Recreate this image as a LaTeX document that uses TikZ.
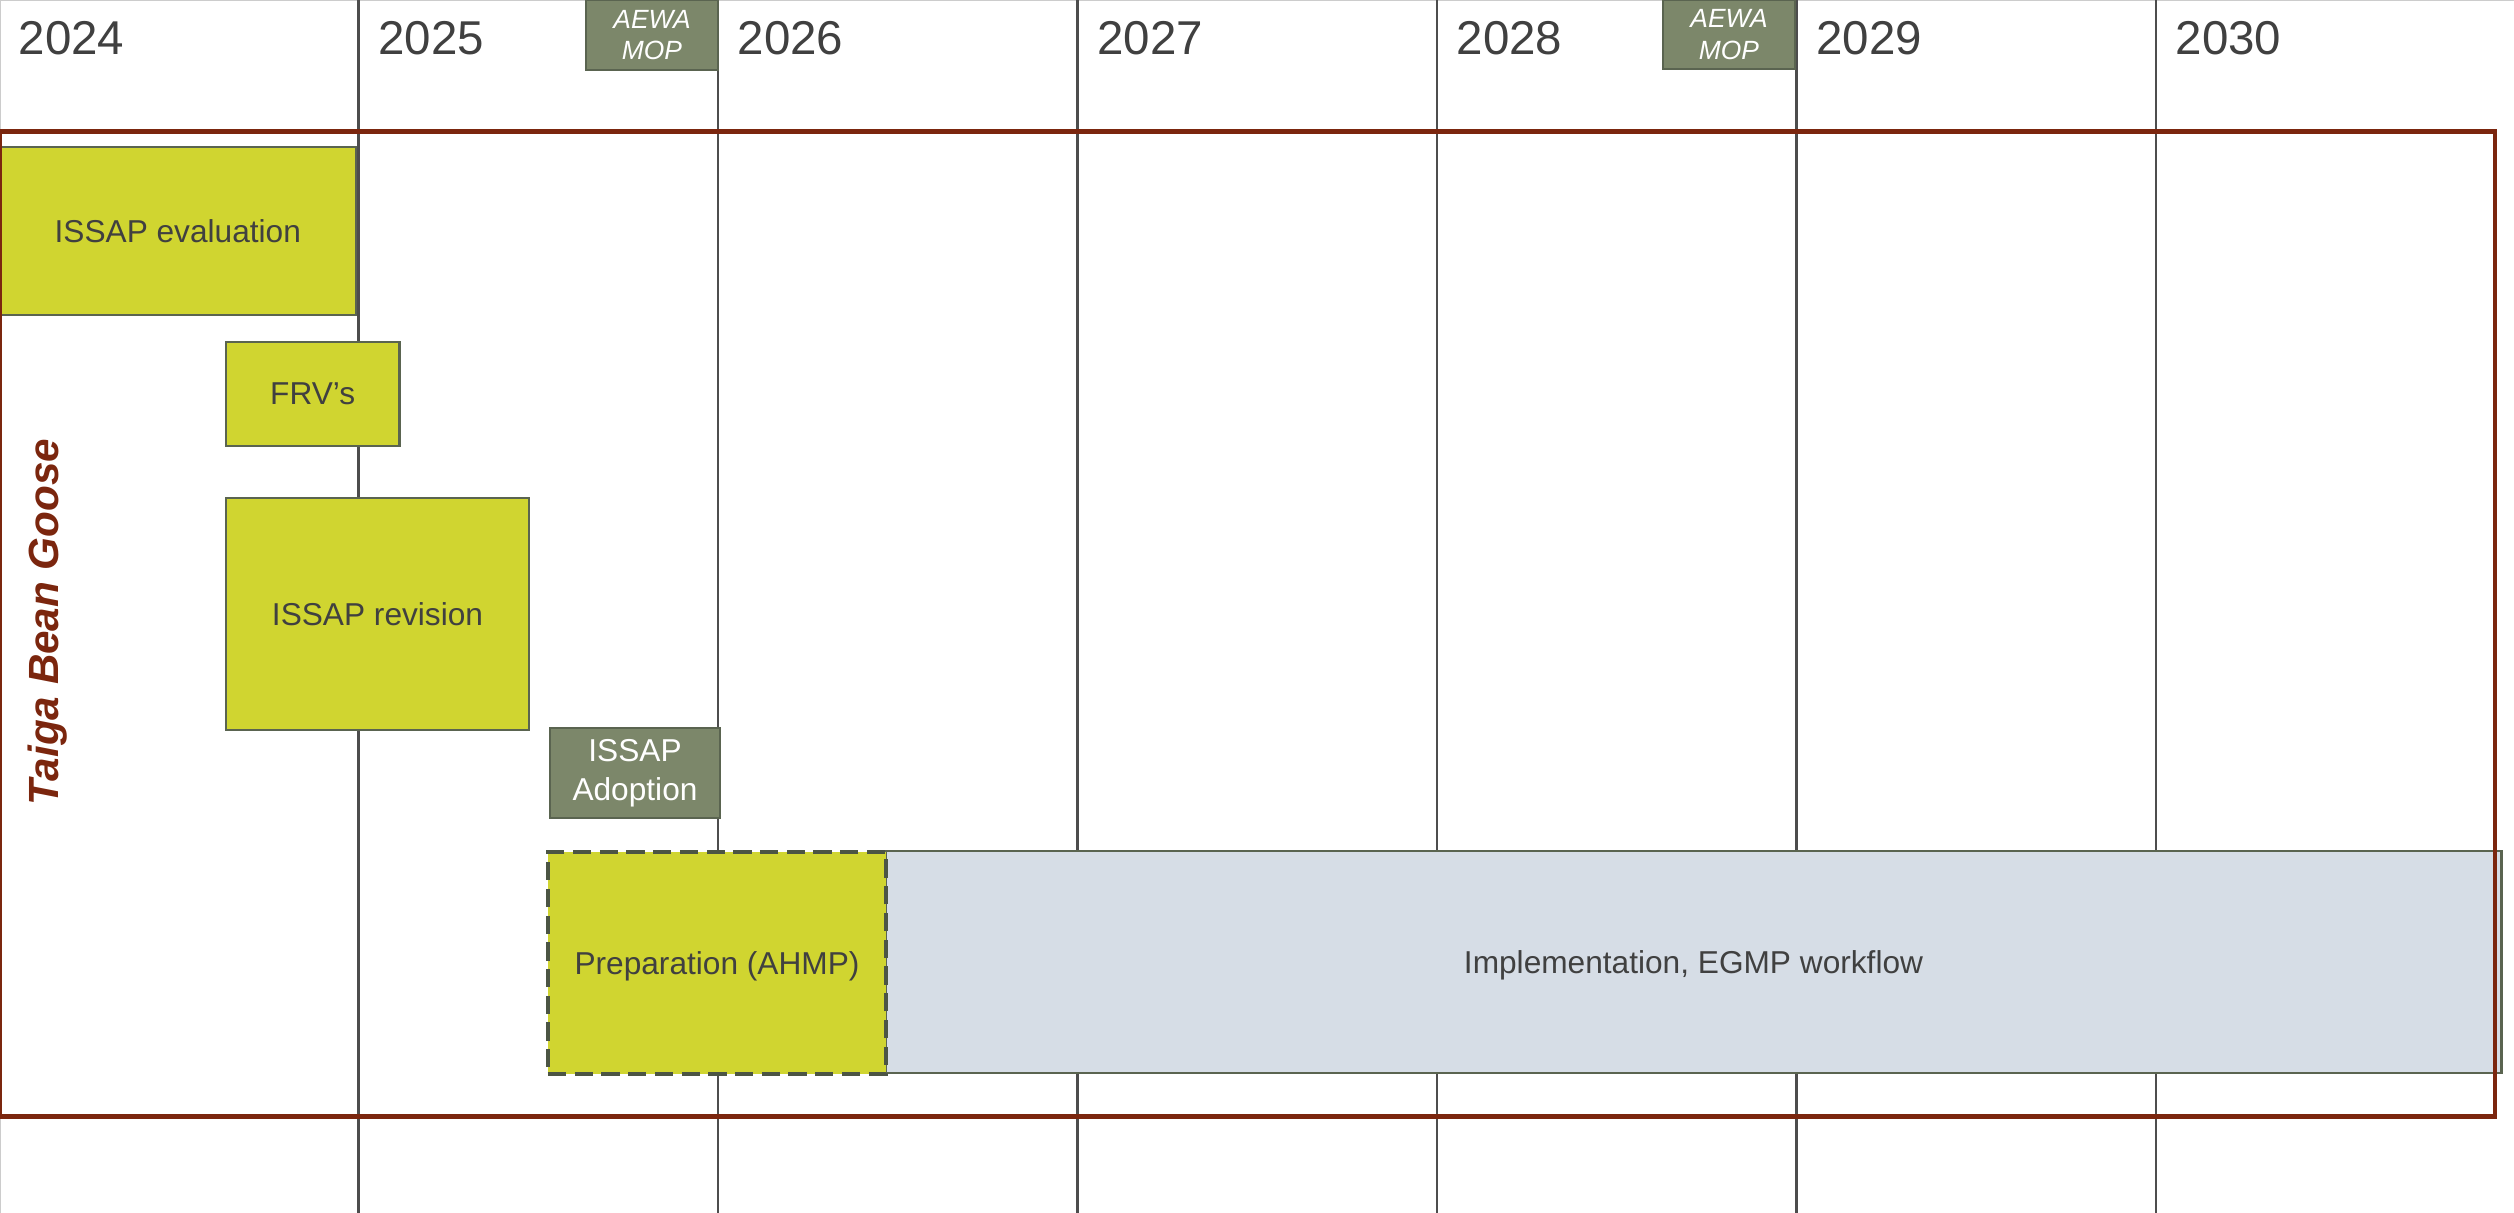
\documentclass[tikz,border=0pt]{standalone}
\usepackage{fontspec}
\setmainfont{Liberation Sans}
\definecolor{lime}{RGB}{208,213,48}
\definecolor{moss}{RGB}{124,135,106}
\definecolor{edge}{RGB}{90,100,80}
\definecolor{mist}{RGB}{214,221,230}
\definecolor{rust}{RGB}{123,38,14}
\definecolor{ink}{RGB}{64,64,64}
\definecolor{grid}{RGB}{77,77,77}
\begin{document}
\begin{tikzpicture}[x=0.01cm,y=-0.01cm,line join=miter,
  bar/.style={draw=edge,line width=0.6pt,fill=lime,text=ink,inner sep=0pt,outer sep=0pt,font=\fontsize{9}{11}\selectfont},
  mop/.style={bar,fill=moss,text=white,align=center,font=\fontsize{7.5}{9}\selectfont\itshape},
  year/.style={anchor=base west,inner sep=0pt,text=ink,font=\fontsize{13.5}{16}\selectfont}]
\useasboundingbox (0,0) rectangle (2514,1213);
\draw[black!20,line width=0.4pt] (0,0.5)--(2514,0.5) (0.5,0)--(0.5,1213);
\foreach \i in {1,...,6} \draw[grid,line width=0.6pt] ({-1+359.5*\i},0)--({-1+359.5*\i},1213);
\foreach \yr [count=\i from 0] in {2024,...,2030} \node[year] (y\yr) at ({18+359.5*\i},55) {\yr};
% boxes
\node[mop,minimum width=1.32cm,minimum height=0.7cm] (mop1) at (652,35) {AEWA\\MOP};
\node[mop,minimum width=1.32cm,minimum height=0.69cm] (mop2) at (1729,34.5) {AEWA\\MOP};
\node[bar,minimum width=3.556cm,minimum height=1.683cm] (eval) at (177.8,230.8) {ISSAP evaluation};
\node[bar,minimum width=1.735cm,minimum height=1.04cm] (frv) at (312.75,394) {FRV’s};
\node[bar,minimum width=3.03cm,minimum height=2.31cm] (rev) at (377.5,614) {ISSAP revision};
\node[bar,fill=moss,text=white,align=center,font=\fontsize{9}{11.1}\selectfont,minimum width=1.7cm,minimum height=0.9cm] (adopt) at (635,773) {ISSAP\\Adoption};
\node[bar,fill=mist,text height=6.45pt,text depth=0pt,minimum width=16.15cm,minimum height=2.215cm] (impl) at (1693.5,962.2) {Implementation, EGMP workflow};
\node[bar,draw=edge!85!black,line width=1.25pt,dash pattern=on 5.2pt off 2.4pt,text height=6.45pt,text depth=0pt,minimum width=3.38cm,minimum height=2.22cm] (prep) at (717,963) {Preparation (AHMP)};
% frame
\draw[rust,line width=1.3pt] (0,131.5) rectangle (2495,1116.5);
\node[rotate=90,text=rust,font=\fontsize{12}{14}\selectfont\bfseries\itshape] (goose) at (48,622) {Taiga Bean Goose};
\end{tikzpicture}
\end{document}
